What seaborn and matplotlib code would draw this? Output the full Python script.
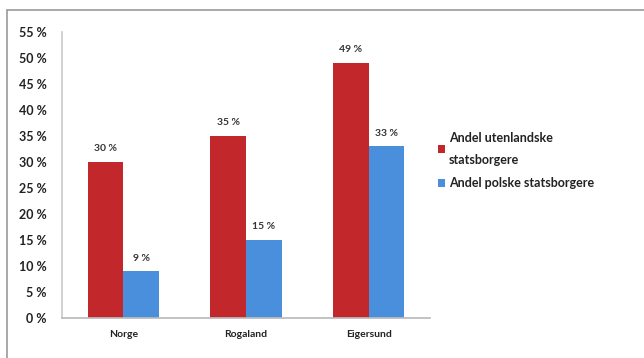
import matplotlib
matplotlib.use("Agg")
import matplotlib.pyplot as plt
import seaborn as sns
import pandas as pd
from matplotlib.patches import Rectangle

categories = ["Norge", "Rogaland", "Eigersund"]
series_names = ["Andel utenlandske\nstatsborgere", "Andel polske statsborgere"]
utenlandske = [30, 35, 49]
polske = [9, 15, 33]
yticks = list(range(0, 56, 5))

df = pd.DataFrame({
    "Område": categories * 2,
    "Serie": [series_names[0]] * 3 + [series_names[1]] * 3,
    "Andel": utenlandske + polske,
})

sns.set_theme(style="white")
plt.rcParams["font.family"] = ["Lato", "DejaVu Sans"]

fig = plt.figure(figsize=(6.44, 3.58), dpi=100)
ax = fig.add_axes([0.096, 0.112, 0.572, 0.80])

palette = ["#C2272B", "#4A8FDB"]
sns.barplot(data=df, x="Område", y="Andel", hue="Serie", palette=palette,
            width=0.58, saturation=1, ax=ax, edgecolor="none", legend=True)

for cont in ax.containers:
    labels = [f"{int(round(v))} %" for v in cont.datavalues]
    ax.bar_label(cont, labels=labels, padding=6, fontsize=7.5, color="#333333",
                 fontweight="bold")

ax.set_ylim(0, 55)
ax.set_yticks(yticks)
ax.set_yticklabels([f"{t} %" for t in yticks], fontsize=9, color="#222222",
                   fontweight="bold")
ax.set_xticklabels(categories, fontsize=7.5, color="#222222", fontweight="bold")
ax.set_xlabel("")
ax.set_ylabel("")
ax.tick_params(axis="x", length=0, pad=9)
ax.tick_params(axis="y", length=3, color="#BBBBBB", pad=8)
ax.set_xlim(-0.5, 2.5)
for s in ["top", "right"]:
    ax.spines[s].set_visible(False)
ax.spines["left"].set_color("#CCCCCC")
ax.spines["bottom"].set_color("#BBBBBB")

leg = ax.legend(loc="center left", bbox_to_anchor=(0.99, 0.55), frameon=False,
                handlelength=0.6, handleheight=0.6, handletextpad=0.3,
                labelspacing=0.9, prop={"weight": "bold", "size": 9})
for t in leg.get_texts():
    t.set_color("#222222")
    t.set_linespacing(2.0)

fig.patches.append(Rectangle((0.011, -0.01), 1.2, 0.982, transform=fig.transFigure,
                             fill=False, edgecolor="#999999", linewidth=1.2))

fig.savefig("out.png", dpi=100)
